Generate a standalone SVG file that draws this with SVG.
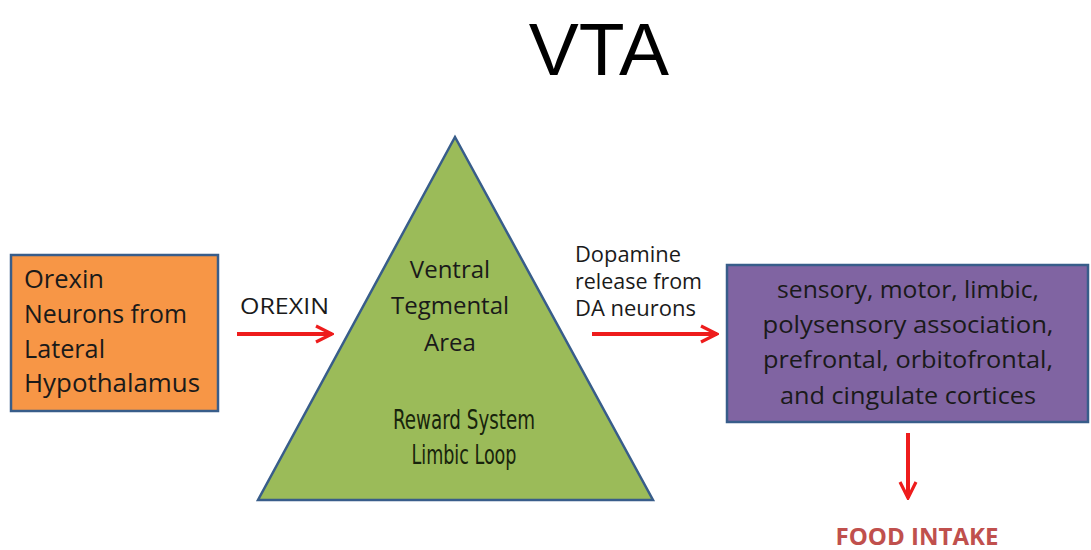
<svg xmlns="http://www.w3.org/2000/svg" width="1091" height="550" viewBox="0 0 1091 550">
<defs>
<style>
.t{font-family:"Open Sans","Liberation Sans",sans-serif;fill:#1a1a1a}
.box{stroke:#385d8a;stroke-width:2.5}
.arr{stroke:#ee1c1c;stroke-width:4;fill:none}
.cond{font-family:"DejaVu Sans Condensed","DejaVu Sans",sans-serif;fill:#18240c}
</style>
<marker id="ah" viewBox="0 0 10 10" refX="9" refY="5" markerWidth="5" markerHeight="5" orient="auto" markerUnits="strokeWidth">
<path d="M1,1 L9,5 L1,9" fill="none" stroke="#ee1c1c" stroke-width="1.6"/>
</marker>
</defs>
<rect width="1091" height="550" fill="#ffffff"/>
<text x="599" y="75" text-anchor="middle" font-family="Liberation Sans,sans-serif" font-size="75" fill="#000">VTA</text>
<g id="orexin-neurons">
<rect class="box" x="11" y="255" width="207" height="156" fill="#f79646"/>
<text class="t" font-size="25"><tspan x="24" y="288" textLength="80" lengthAdjust="spacingAndGlyphs">Orexin</tspan><tspan x="24" y="323" textLength="163" lengthAdjust="spacingAndGlyphs">Neurons from</tspan><tspan x="24" y="358" textLength="81" lengthAdjust="spacingAndGlyphs">Lateral</tspan><tspan x="24" y="392" textLength="176" lengthAdjust="spacingAndGlyphs">Hypothalamus</tspan></text>
</g>
<g id="vta">
<polygon class="box" points="455,137 258,500 653,500" fill="#9bbb59"/>
<text class="t" font-size="24" text-anchor="middle"><tspan x="450" y="278">Ventral</tspan><tspan x="450" y="314">Tegmental</tspan><tspan x="450" y="351">Area</tspan></text>
<text class="cond" font-size="27" text-anchor="middle"><tspan x="464" y="429" textLength="142" lengthAdjust="spacingAndGlyphs">Reward System</tspan><tspan x="464" y="464" textLength="105" lengthAdjust="spacingAndGlyphs">Limbic Loop</tspan></text>
</g>
<g id="cortices">
<rect class="box" x="727" y="265" width="361" height="157" fill="#8064a2"/>
<text class="t" font-size="24" text-anchor="middle"><tspan x="908" y="298" textLength="262" lengthAdjust="spacingAndGlyphs">sensory, motor, limbic,</tspan><tspan x="908" y="333" textLength="291" lengthAdjust="spacingAndGlyphs">polysensory association,</tspan><tspan x="908" y="368" textLength="290" lengthAdjust="spacingAndGlyphs">prefrontal, orbitofrontal,</tspan><tspan x="908" y="404" textLength="256" lengthAdjust="spacingAndGlyphs">and cingulate cortices</tspan></text>
</g>
<g id="food-intake">
<text x="917" y="545" text-anchor="middle" font-family="Open Sans,Liberation Sans,sans-serif" font-weight="bold" font-size="23" fill="#c0504d" textLength="163" lengthAdjust="spacingAndGlyphs">FOOD INTAKE</text>
</g>
<g id="connectors">
<line class="arr" x1="237" y1="334" x2="332" y2="334" marker-end="url(#ah)"/>
<text class="t" font-size="22" x="240" y="314" textLength="89" lengthAdjust="spacingAndGlyphs">OREXIN</text>
<line class="arr" x1="592" y1="334" x2="717" y2="334" marker-end="url(#ah)"/>
<text class="t" font-size="21"><tspan x="575" y="262" textLength="106" lengthAdjust="spacingAndGlyphs">Dopamine</tspan><tspan x="575" y="289" textLength="127" lengthAdjust="spacingAndGlyphs">release from</tspan><tspan x="575" y="316" textLength="121" lengthAdjust="spacingAndGlyphs">DA neurons</tspan></text>
<line class="arr" x1="908" y1="433" x2="908" y2="498" stroke-width="3" marker-end="url(#ah)"/>
</g>
</svg>
